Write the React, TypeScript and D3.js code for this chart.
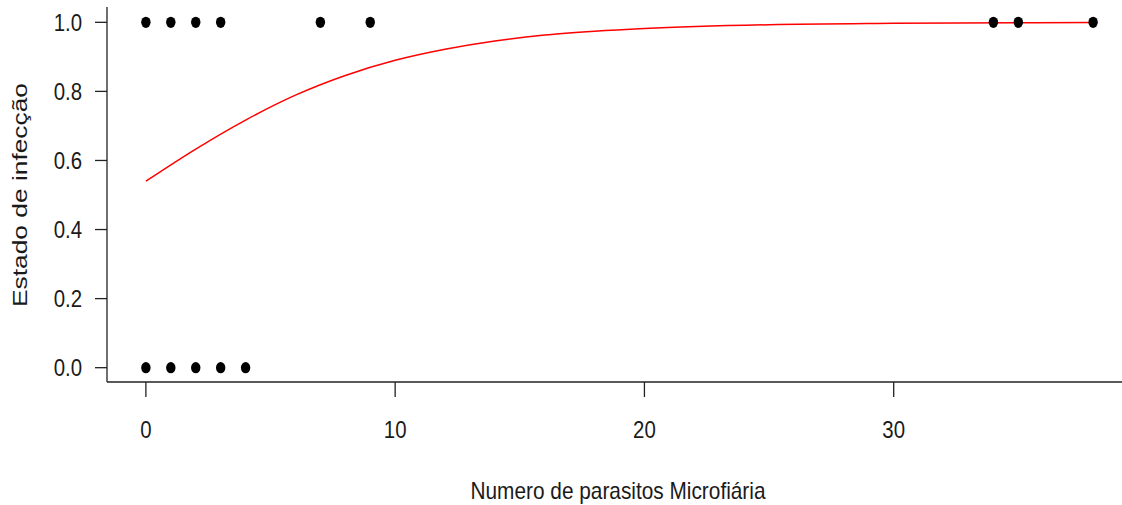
import React from "react";
import * as d3 from "d3";

// observed points (numero de parasitos, estado de infecção)
const pointsX = [0, 1, 2, 3, 7, 9, 34, 35, 38, 0, 1, 2, 3, 4];
const pointsY = [1, 1, 1, 1, 1, 1, 1, 1, 1, 0, 0, 0, 0, 0];

// fitted curve
const curveX = [0, 2, 4, 6, 8, 10, 12, 14, 16, 18, 20, 25, 30, 38];
const curveY = [0.54, 0.633, 0.717, 0.789, 0.846, 0.89, 0.922, 0.946, 0.963, 0.974, 0.982, 0.993, 0.997, 0.9995];

const xTicks = [0, 10, 20, 30];
const yTicks = [0, 0.2, 0.4, 0.6, 0.8, 1.0];

const W = 1122;
const H = 505;
const FONT = "'Liberation Sans', Arial, sans-serif";
const SX = 0.85;

export default function App() {
  const x = d3.scaleLinear().domain([-1.52, 39.52]).range([108, 1131]);
  const y = d3.scaleLinear().domain([-0.04, 1.04]).range([381.5, 8.5]);

  const left = 107;
  const bottom = 382;

  const line = d3
    .line<number>()
    .x((d, i) => x(curveX[i]))
    .y((d) => y(d))
    .curve(d3.curveMonotoneX);

  return (
    <svg
      width={W}
      height={H}
      style={{ position: "absolute", left: 0, top: 0, background: "#fff" }}
    >
      <rect width={W} height={H} fill="#fff" />

      {/* L-shaped frame */}
      <line x1={left} x2={left} y1={7} y2={bottom} stroke="#222" strokeWidth={1.3} />
      <line x1={left} x2={W} y1={bottom} y2={bottom} stroke="#222" strokeWidth={1.3} />

      {/* y axis */}
      {yTicks.map((t) => (
        <g key={"y" + t}>
          <line x1={95} x2={left} y1={y(t)} y2={y(t)} stroke="#222" strokeWidth={1.3} />
          <text
            transform={`translate(82,${y(t)}) scale(${SX},1)`}
            textAnchor="end"
            dy="0.36em"
            fontFamily={FONT}
            fontSize={24}
            fill="#1a1a1a"
          >
            {d3.format(".1f")(t)}
          </text>
        </g>
      ))}

      {/* x axis */}
      {xTicks.map((t) => (
        <g key={"x" + t}>
          <line x1={x(t)} x2={x(t)} y1={bottom} y2={397} stroke="#222" strokeWidth={1.3} />
          <text
            transform={`translate(${x(t)},438) scale(${SX},1)`}
            textAnchor="middle"
            fontFamily={FONT}
            fontSize={24}
            fill="#1a1a1a"
          >
            {t}
          </text>
        </g>
      ))}

      {/* titles */}
      <text
        x={618}
        y={499}
        textAnchor="middle"
        fontFamily={FONT}
        fontSize={24}
        textLength={295}
        lengthAdjust="spacingAndGlyphs"
        fill="#1a1a1a"
      >
        Numero de parasitos Microfiária
      </text>
      <text
        transform="translate(27,195) rotate(-90)"
        textAnchor="middle"
        fontFamily={FONT}
        fontSize={20}
        textLength={224}
        lengthAdjust="spacingAndGlyphs"
        fill="#1a1a1a"
      >
        Estado de infecção
      </text>

      {/* fitted curve */}
      <path d={line(curveY) || ""} fill="none" stroke="#ff0000" strokeWidth={1.5} />

      {/* points */}
      {pointsX.map((px, i) => (
        <ellipse key={"p" + i} cx={x(px)} cy={y(pointsY[i])} rx={4.7} ry={5.6} fill="#000" />
      ))}
    </svg>
  );
}
